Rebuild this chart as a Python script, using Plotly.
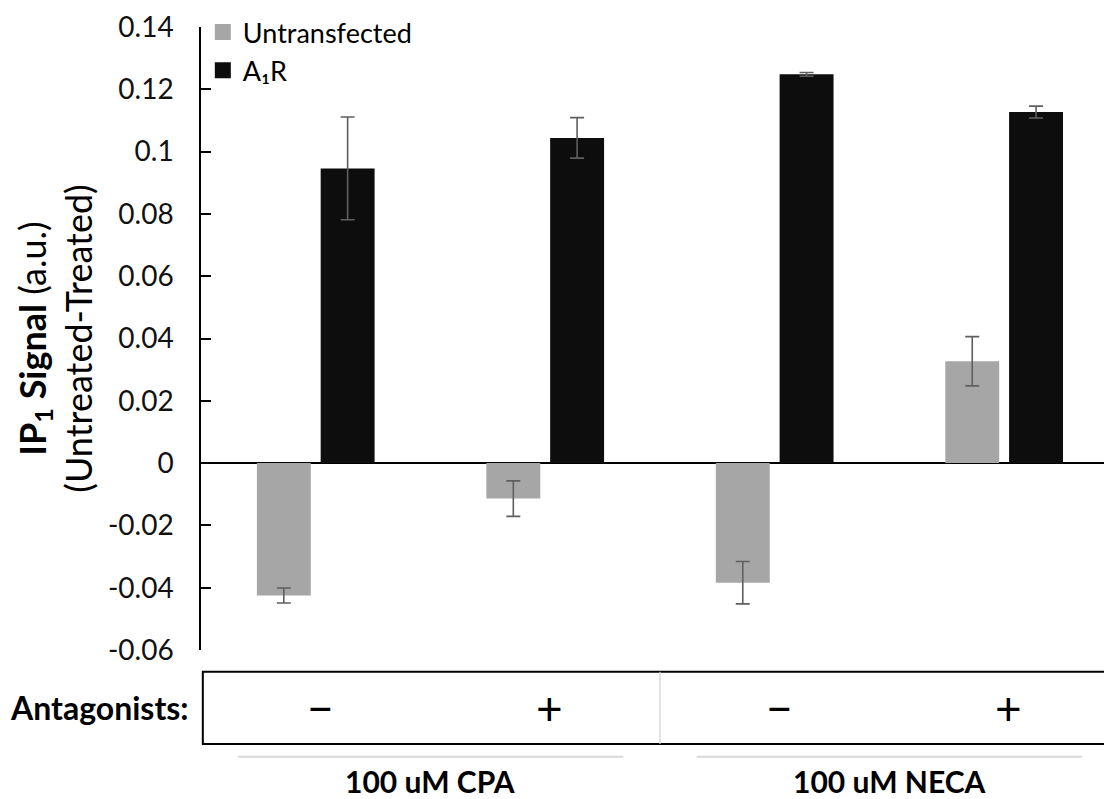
import plotly.graph_objects as go

# ---- data ----
conditions = ["CPA −", "CPA +", "NECA −", "NECA +"]
antagonist_signs = ["−", "+", "−", "+"]
agonist_labels = ["100 uM CPA", "100 uM NECA"]
untransfected = [-0.0425, -0.0114, -0.0384, 0.0327]
untransfected_err = [0.0024, 0.0057, 0.0068, 0.0079]
a1r = [0.0946, 0.1044, 0.1248, 0.1127]
a1r_err = [0.0165, 0.0065, 0.0006, 0.0019]
y_tickvals = [0.14, 0.12, 0.10, 0.08, 0.06, 0.04, 0.02, 0.0, -0.02, -0.04, -0.06]
y_ticktext = ["0.14", "0.12", "0.1", "0.08", "0.06", "0.04", "0.02", "0", "-0.02", "-0.04", "-0.06"]

FONT = "Lato"
GREY = "#A6A6A6"
BLACK = "#0D0D0D"
xpos = list(range(len(conditions)))
bw = 0.235
half = 0.139

fig = go.Figure()
fig.add_trace(go.Bar(
    x=xpos, y=untransfected, name="Untransfected", showlegend=False,
    width=bw, offset=-half - bw / 2,
    marker=dict(color=GREY, line=dict(width=0)),
    error_y=dict(type="data", array=untransfected_err, color="#5f5f5f", thickness=1.6, width=7),
))
fig.add_trace(go.Bar(
    x=xpos, y=a1r, name="A₁R", showlegend=False,
    width=bw, offset=half - bw / 2,
    marker=dict(color=BLACK, line=dict(width=0)),
    error_y=dict(type="data", array=a1r_err, color="#5f5f5f", thickness=1.6, width=7),
))
# legend entries with large square swatches
fig.add_trace(go.Scatter(x=[None], y=[None], mode="markers", name="Untransfected",
                         marker=dict(symbol="square", size=18, color=GREY)))
fig.add_trace(go.Scatter(x=[None], y=[None], mode="markers", name="A₁R",
                         marker=dict(symbol="square", size=18, color=BLACK)))

shapes = []
annotations = []
box_top, box_bot = -0.0349, -0.1508
box_mid = (box_top + box_bot) / 2
shapes.append(dict(type="rect", xref="paper", yref="paper", x0=0.002, x1=1.02, y0=box_bot, y1=box_top,
                   line=dict(color="black", width=2), fillcolor="rgba(0,0,0,0)"))
shapes.append(dict(type="line", xref="x", yref="paper", x0=1.5, x1=1.5, y0=box_bot, y1=box_top,
                   line=dict(color="#d0d0d0", width=1.2)))
for i, s in enumerate(antagonist_signs):
    annotations.append(dict(xref="x", yref="paper", x=i + 0.02, y=box_mid, text=s,
                            showarrow=False, font=dict(family=FONT, size=46, color="black"),
                            xanchor="center", yanchor="middle"))
annotations.append(dict(xref="paper", yref="paper", x=-0.011, y=box_mid,
                        text="<b>Antagonists:</b>", showarrow=False,
                        font=dict(family=FONT, size=32, color="black"), xanchor="right", yanchor="middle"))
for j, lab in enumerate(agonist_labels):
    c = 2 * j + 0.5
    shapes.append(dict(type="line", xref="x", yref="paper", x0=c - 0.84, x1=c + 0.84, y0=-0.1714, y1=-0.1714,
                       line=dict(color="#d9d9d9", width=2)))
    annotations.append(dict(xref="x", yref="paper", x=c, y=-0.2095, text="<b>" + lab + "</b>",
                            showarrow=False, font=dict(family=FONT, size=30, color="black"),
                            xanchor="center", yanchor="middle"))

fig.update_layout(
    width=1104, height=791,
    margin=dict(l=193, r=0, t=12, b=149),
    paper_bgcolor="white", plot_bgcolor="white",
    font=dict(family=FONT, size=28, color="black"),
    showlegend=True,
    legend=dict(x=0.002, y=1.031, xanchor="left", yanchor="top", bgcolor="rgba(0,0,0,0)",
                font=dict(family=FONT, size=27, color="black"), itemwidth=30, tracegroupgap=0),
    xaxis=dict(range=[-0.5, 3.47], showticklabels=False, showgrid=False, zeroline=False,
               showline=False, ticks="", fixedrange=True),
    yaxis=dict(range=[-0.06, 0.14], tickvals=y_tickvals, ticktext=y_ticktext,
               showgrid=False, zeroline=True, zerolinecolor="black", zerolinewidth=1.5,
               showline=True, linecolor="black", linewidth=1.5,
               ticks="inside", ticklen=10, tickwidth=1.5, tickcolor="black",
               ticklabelstandoff=20, ticklabeloverflow="allow",
               tickfont=dict(family=FONT, size=28, color="#111111"),
               title=dict(text="<b>IP<sub>1</sub> Signal</b> (a.u.)<br>(Untreated-Treated)",
                          font=dict(family=FONT, size=36, color="black"), standoff=4)),
    shapes=shapes, annotations=annotations,
)

fig.write_html("out.html")
